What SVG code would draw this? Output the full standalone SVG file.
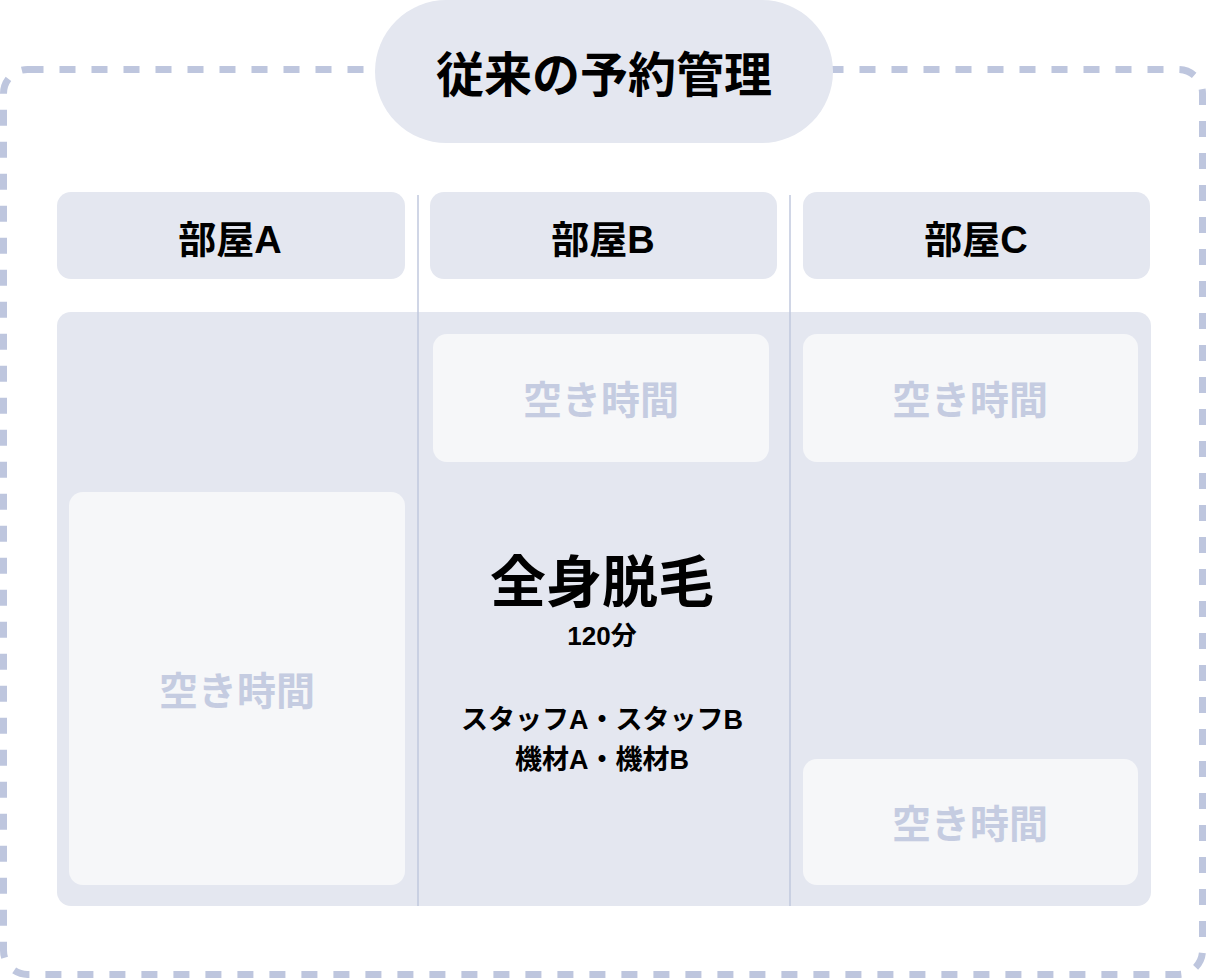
<svg xmlns="http://www.w3.org/2000/svg" width="1206" height="978" viewBox="0 0 1206 978">
<style>
text{font-family:"Liberation Sans","Noto Sans CJK JP",sans-serif;text-anchor:middle}
.hdr{fill:#E4E7F0}
.free{fill:#F6F7F9}
.freet{fill:#C5CCE1;font-weight:700;font-size:39px}
.hdrt{fill:#000;font-weight:700;font-size:38px}
.div{stroke:#C0C8DE;stroke-width:1.5}
.sub{fill:#000;font-weight:600}
</style>
<rect x="3.5" y="69.5" width="1199" height="905" rx="24" fill="#fff" stroke="#BEC6DE" stroke-width="7" stroke-dasharray="16 16"/>
<g id="title">
<rect x="375" y="0" width="458" height="143" rx="71.5" class="hdr"/>
<text x="604" y="92" font-size="48" font-weight="700" fill="#000">従来の予約管理</text>
</g>
<rect x="57" y="312" width="1094" height="594" rx="14" class="hdr"/>
<g id="connectors">
<line x1="418" y1="195" x2="418" y2="906" class="div"/>
<line x1="790" y1="195" x2="790" y2="906" class="div"/>
</g>
<g id="roomA">
<rect x="57" y="192" width="348" height="87" rx="14" class="hdr"/>
<text x="230" y="253" class="hdrt">部屋A</text>
</g>
<g id="roomB">
<rect x="430" y="192" width="347" height="87" rx="14" class="hdr"/>
<text x="603" y="253" class="hdrt">部屋B</text>
</g>
<g id="roomC">
<rect x="803" y="192" width="347" height="87" rx="14" class="hdr"/>
<text x="976" y="253" class="hdrt">部屋C</text>
</g>
<g id="freeA">
<rect x="69" y="492" width="336" height="393" rx="14" class="free"/>
<text x="237" y="705" class="freet">空き時間</text>
</g>
<g id="freeB">
<rect x="433" y="334" width="336" height="128" rx="14" class="free"/>
<text x="601" y="414" class="freet">空き時間</text>
</g>
<g id="freeC1">
<rect x="803" y="334" width="335" height="128" rx="14" class="free"/>
<text x="970" y="414" class="freet">空き時間</text>
</g>
<g id="freeC2">
<rect x="803" y="759" width="335" height="126" rx="14" class="free"/>
<text x="970" y="838" class="freet">空き時間</text>
</g>
<g id="booking">
<text x="602" y="602" font-size="56" font-weight="700" fill="#000">全身脱毛</text>
<text x="602" y="645" font-size="26" class="sub">120分</text>
<text x="602" y="729" font-size="27" class="sub">スタッフA・スタッフB</text>
<text x="602" y="769" font-size="27" class="sub">機材A・機材B</text>
</g>
</svg>
